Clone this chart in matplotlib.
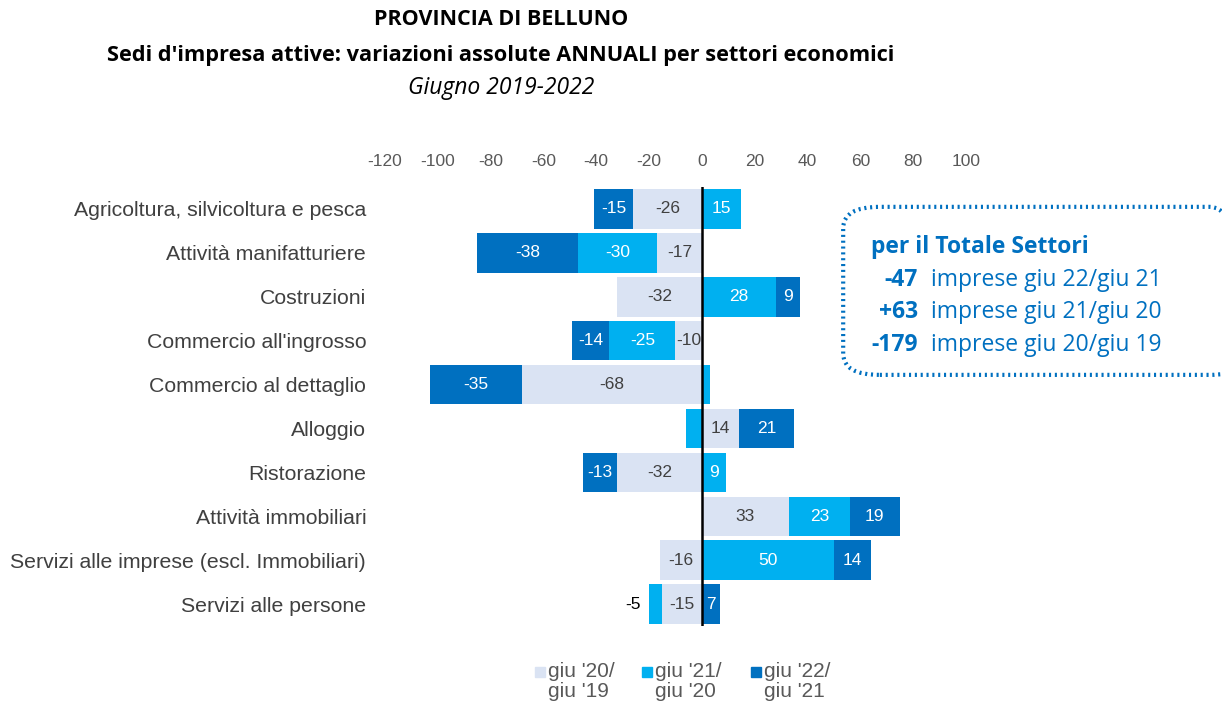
from matplotlib import pyplot as plt
from matplotlib.patches import FancyBboxPatch, Rectangle
import numpy as np

settori = ["Agricoltura, silvicoltura e pesca", "Attività manifatturiere", "Costruzioni",
           "Commercio all'ingrosso", "Commercio al dettaglio", "Alloggio", "Ristorazione",
           "Attività immobiliari", "Servizi alle imprese (escl. Immobiliari)", "Servizi alle persone"]
giu20_19 = [-26, -17, -32, -10, -68, 14, -32, 33, -16, -15]
giu21_20 = [15, -30, 28, -25, 3, -6, 9, 23, 50, -5]
giu22_21 = [-15, -38, 9, -14, -35, 21, -13, 19, 14, 7]
legenda = ["giu '20/\ngiu '19", "giu '21/\ngiu '20", "giu '22/\ngiu '21"]
colori = ["#DAE3F3", "#00B0F0", "#0070C0"]
testo_col = ["#404040", "white", "white"]
ticks = list(range(-120, 101, 20))
totali = [("-47", "imprese giu 22/giu 21"), ("+63", "imprese giu 21/giu 20"), ("-179", "imprese giu 20/giu 19")]

plt.rcParams['font.family'] = ['Liberation Sans', 'DejaVu Sans']
plt.rcParams['axes.unicode_minus'] = False
fig = plt.figure(figsize=(12.22, 7.06), dpi=100)
ax = fig.add_axes([0.315, 0.1133, 0.4755, 0.6218])

y = np.arange(len(settori))
pos = np.zeros(len(settori))
neg = np.zeros(len(settori))
serie = [giu20_19, giu21_20, giu22_21]
for s, vals in enumerate(serie):
    vals = np.array(vals, dtype=float)
    left = np.where(vals >= 0, pos, neg)
    ax.barh(y, vals, left=left, height=0.9, color=colori[s], label=legenda[s])
    for i, v in enumerate(vals):
        c = left[i] + v / 2
        if abs(v) >= 7:
            ax.text(c, y[i], "%d" % v, ha='center', va='center', fontsize=12.5, color=testo_col[s])
        elif v == -5:
            ax.text(left[i] + v - 3, y[i], "%d" % v, ha='right', va='center', fontsize=12.5, color='black')
    pos = np.where(vals >= 0, pos + vals, pos)
    neg = np.where(vals < 0, neg + vals, neg)

ax.axvline(0, color='black', lw=1.8)
ax.set_xlim(-120, 100)
ax.set_ylim(9.5, -0.5)
ax.set_xticks(ticks)
ax.xaxis.tick_top()
ax.tick_params(axis='x', length=0, labelsize=12.5, labelcolor='#595959', pad=13)
ax.set_yticks(y)
ax.set_yticklabels(settori)
ax.tick_params(axis='y', length=0, labelsize=15.3, labelcolor='#404040', pad=13.5)
for sp in ax.spines.values():
    sp.set_visible(False)

tf = ['Open Sans', 'DejaVu Sans']
fig.text(0.41, 0.972, "PROVINCIA DI BELLUNO", ha='center', va='center', fontsize=15.5,
         fontweight='bold', family=tf)
fig.text(0.41, 0.921, "Sedi d'impresa attive: variazioni assolute ANNUALI per settori economici",
         ha='center', va='center', fontsize=15.7, fontweight='bold', family=tf)
fig.text(0.41, 0.876, "Giugno 2019-2022", ha='center', va='center', fontsize=16.5,
         style='italic', family=tf)

box = FancyBboxPatch((0.69, 0.469), 0.33, 0.238, boxstyle="round,pad=0,rounding_size=0.03",
                     transform=fig.transFigure, fill=False, edgecolor='#0070C0',
                     lw=3, linestyle=(0, (0.5, 0.9)), clip_on=False)
fig.patches.append(box)
blu = '#0070C0'
fig.text(0.713, 0.650, "per il Totale Settori", ha='left', va='center', fontsize=16.5,
         fontweight='bold', color=blu, family=tf)
for k, (num, txt) in enumerate(totali):
    yy = 0.604 - k * 0.0462
    fig.text(0.751, yy, num, ha='right', va='center', fontsize=16.5, fontweight='bold',
             color=blu, family=tf)
    fig.text(0.762, yy, txt, ha='left', va='center', fontsize=16.5, color=blu, family=tf)

# legenda manuale: quadratino allineato alla prima riga
leg_x = [535, 642, 751]
for k in range(3):
    x0 = leg_x[k] / 1222
    fig.patches.append(Rectangle((x0, 1 - 677 / 706), 10 / 1222, 10 / 706,
                                 transform=fig.transFigure, color=colori[k]))
    fig.text(x0 + 13 / 1222, 1 - 662 / 706, legenda[k], ha='left', va='top', fontsize=15,
             color='#595959', linespacing=1.08)

fig.savefig("out.png", dpi=100)
